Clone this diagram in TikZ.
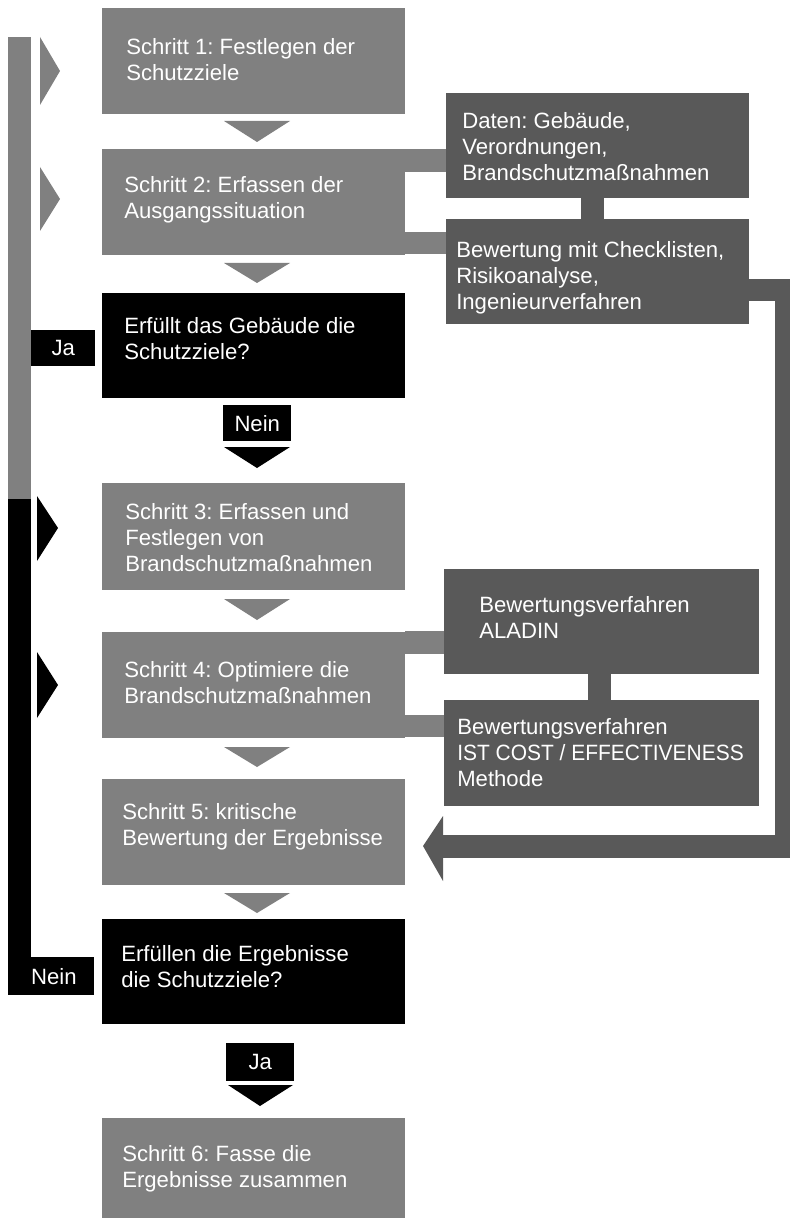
\documentclass[tikz,border=0pt]{standalone}
\usepackage{fontspec}
\setmainfont{Liberation Sans}
\frenchspacing
\definecolor{midgray}{HTML}{808080}
\definecolor{darkgray}{HTML}{595959}
\tikzset{
  blk/.style={fill=#1, draw=none, inner sep=0pt, anchor=north west},
  txt/.style={text=white, anchor=north west, inner sep=0pt, align=left,
    font=\fontsize{16.6}{19.6}\selectfont},
  lbl/.style={text=white, inner sep=0pt, font=\fontsize{16.6}{19.6}\selectfont},
}
\newcommand{\bx}[6]{% name, color, x1, y1, x2, y2
  \node[blk=#2, minimum width={(#5-#3)*0.75pt}, minimum height={(#6-#4)*0.75pt}] (#1) at (#3,#4) {};}
\begin{document}
\begin{tikzpicture}[x=0.75pt,y=-0.75pt]
\useasboundingbox[fill=white] (0,0) rectangle (790,1219);

% left bars
\fill[midgray] (8,37) rectangle (31,499);
\fill[black] (8,499) rectangle (31,995);
\bx{ja1}{black}{31}{330}{95}{366}
\bx{nein2}{black}{8}{957}{94}{995}
\node[lbl] (ja1t) at (ja1.center) {Ja};
\node[lbl] (nein2t) at ([xshift=2pt]nein2.center) {Nein};
% left triangles
\fill[midgray] (40,37) -- (60,71) -- (40,105) -- cycle;
\fill[midgray] (40,167) -- (60,199) -- (40,231) -- cycle;
\fill[black] (37,496) -- (58,528) -- (37,561) -- cycle;
\fill[black] (37,652) -- (58,685) -- (37,718) -- cycle;

% main column
\bx{s1}{midgray}{102}{8}{405}{114}
\bx{s2}{midgray}{102}{149}{405}{255}
\bx{q1}{black}{102}{293}{405}{398}
\bx{s3}{midgray}{102}{483}{405}{590}
\bx{s4}{midgray}{102}{632}{405}{738}
\bx{s5}{midgray}{102}{779}{405}{885}
\bx{q2}{black}{102}{919}{405}{1024}
\bx{s6}{midgray}{102}{1118}{405}{1218}

\node[txt] (s1t) at (126,38) {Schritt 1: Festlegen der\\Schutzziele};
\node[txt] (s2t) at (124,176) {Schritt 2: Erfassen der\\Ausgangssituation};
\node[txt] (q1t) at (124,317) {Erfüllt das Gebäude die\\Schutzziele?};
\node[txt] (s3t) at (125,503) {Schritt 3: Erfassen und\\Festlegen von\\Brandschutzmaßnahmen};
\node[txt] (s4t) at (124,661) {Schritt 4: Optimiere die\\Brandschutzmaßnahmen};
\node[txt] (s5t) at (122,803) {Schritt 5: kritische\\Bewertung der Ergebnisse};
\node[txt] (q2t) at (121,945) {Erfüllen die Ergebnisse\\die Schutzziele?};
\node[txt] (s6t) at (122,1145) {Schritt 6: Fasse die\\Ergebnisse zusammen};

% down triangles
\fill[midgray] (224,121) -- (290,121) -- (257,142) -- cycle;
\fill[midgray] (224,263) -- (290,263) -- (257,283) -- cycle;
\fill[black] (224,447) -- (290,447) -- (257,468) -- cycle;
\fill[midgray] (224,599) -- (290,599) -- (257,620) -- cycle;
\fill[midgray] (224,747) -- (290,747) -- (257,767) -- cycle;
\fill[midgray] (224,893) -- (290,893) -- (257,913) -- cycle;
\fill[black] (228,1085) -- (293,1085) -- (260,1106) -- cycle;

% decision labels
\bx{nein1}{black}{223}{405}{291}{441}
\node[lbl] (nein1t) at (nein1.center) {Nein};
\bx{ja2}{black}{226}{1043}{294}{1081}
\node[lbl] (ja2t) at (ja2.center) {Ja};

% right boxes, step 2
\bx{d1}{darkgray}{446}{93}{749}{198}
\bx{d2}{darkgray}{446}{219}{749}{324}
\node[txt] (d1t) at (462,112) {Daten: Gebäude,\\Verordnungen,\\Brandschutzmaßnahmen};
\node[txt] (d2t) at (456,241) {Bewertung mit Checklisten,\\Risikoanalyse,\\Ingenieurverfahren};
\fill[darkgray] (581,198) rectangle (604,219);
\fill[midgray] (405,149) rectangle (446,172);
\fill[midgray] (405,232) rectangle (446,254);

% right boxes, step 4
\bx{a1}{darkgray}{444}{569}{759}{674}
\bx{a2}{darkgray}{444}{700}{759}{806}
\node[txt] (a1t) at (479,596) {Bewertungsverfahren\\ALADIN};
\node[txt] (a2t) at (457,718) {Bewertungsverfahren\\\scalebox{0.947}[1]{IST COST / EFFECTIVENESS}\\Methode};
\fill[darkgray] (588,674) rectangle (611,700);
\fill[midgray] (405,631) rectangle (444,654);
\fill[midgray] (405,715) rectangle (444,737);

% feedback arrow from d2 to s5
\fill[darkgray] (749,279) rectangle (790,301);
\fill[darkgray] (775,279) rectangle (790,858);
\fill[darkgray] (443,835) rectangle (790,858);
\fill[darkgray] (443,816) -- (423,846) -- (443,881) -- cycle;
\end{tikzpicture}
\end{document}
